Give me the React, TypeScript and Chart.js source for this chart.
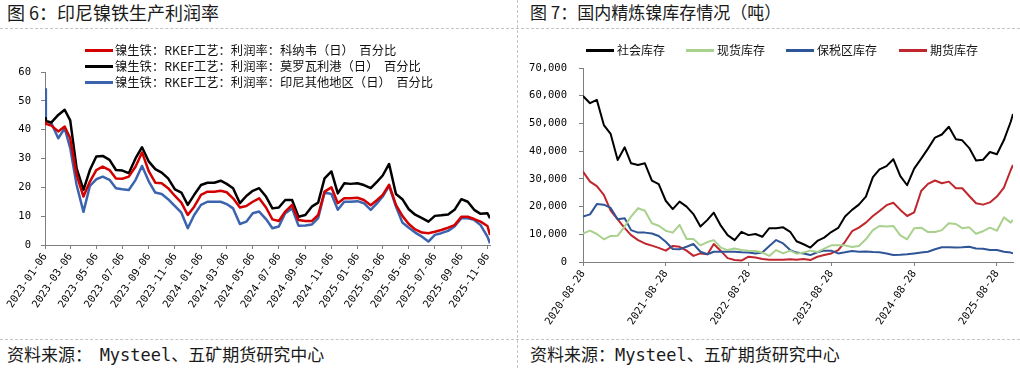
import React, { useEffect, useRef } from "react";
import { Chart, registerables } from "chart.js";

Chart.register(...registerables);

// ---------- Left chart: 印尼镍铁生产利润率 (%) ----------
const leftDates = [
  "2023-01-06", "2023-01-08", "2023-01-21", "2023-02-06", "2023-02-21", "2023-03-06", "2023-03-21",
  "2023-04-06", "2023-04-21", "2023-05-06", "2023-05-21", "2023-06-06", "2023-06-21", "2023-07-06",
  "2023-07-21", "2023-08-06", "2023-08-21", "2023-09-06", "2023-09-21", "2023-10-06", "2023-10-21",
  "2023-11-06", "2023-11-21", "2023-12-06", "2023-12-21",
  "2024-01-06", "2024-01-21", "2024-02-06", "2024-02-21", "2024-03-06", "2024-03-21", "2024-04-06",
  "2024-04-21", "2024-05-06", "2024-05-21", "2024-06-06", "2024-06-21", "2024-07-06", "2024-07-21",
  "2024-08-06", "2024-08-21", "2024-09-06", "2024-09-21", "2024-10-06", "2024-10-21", "2024-11-06",
  "2024-11-21", "2024-12-06", "2024-12-21",
  "2025-01-06", "2025-01-21", "2025-02-06", "2025-02-21", "2025-03-06", "2025-03-21", "2025-04-06",
  "2025-04-21", "2025-05-06", "2025-05-21", "2025-06-06", "2025-06-21", "2025-07-06", "2025-07-21",
  "2025-08-06", "2025-08-21", "2025-09-06", "2025-09-21", "2025-10-06", "2025-10-21", "2025-11-06",
  "2025-11-12",
];

const konawe = [
  42.5, 42, 41.4, 39.4, 41.1, 37.0, 24.3, 16.8, 22.0, 26.0, 27.2, 26.0, 23.1, 23.0, 23.7, 27.2, 32.1,
  25.5, 21.6, 21.4, 19.7, 17.0, 14.7, 10.4, 13.3, 17.4, 18.5, 18.5, 18.8, 18.3, 16.2, 13.0, 13.5, 15.0,
  16.2, 13.0, 8.9, 8.3, 11.6, 13.9, 8.7, 8.3, 8.3, 10.4, 18.5, 20.0, 14.5, 16.2, 16.2, 16.4, 15.6, 13.8,
  15.6, 17.4, 20.9, 13.9, 10.1, 7.3, 5.4, 4.3, 4.1, 4.6, 5.2, 6.0, 6.9, 9.8, 9.8, 9.0, 8.1, 6.6, 3.5,
];

const morowali = [
  44, 43, 42.5, 45.1, 46.9, 43.2, 26.6, 19.1, 26.0, 30.7, 30.9, 29.5, 26.0, 25.8, 24.9, 30.1, 33.9,
  28.9, 26.3, 25.1, 23.1, 19.3, 18.2, 13.9, 17.4, 20.8, 21.6, 21.6, 22.3, 21.2, 19.7, 14.5, 17.0, 18.8,
  19.7, 16.8, 12.7, 13.0, 15.6, 15.6, 9.8, 10.4, 13.3, 14.7, 23.1, 25.5, 17.9, 21.4, 21.2, 21.4, 20.8,
  19.7, 22.0, 24.1, 28.1, 17.7, 15.9, 12.4, 10.5, 9.3, 8.1, 10.1, 10.3, 10.6, 12.2, 15.9, 15.0, 12.2,
  10.8, 11.0, 9.3,
];

const otherRegion = [
  54, 43, 42.2, 37.0, 40.5, 33.6, 20.8, 11.5, 20.5, 22.8, 23.7, 22.6, 19.7, 19.3, 19.1, 22.6, 27.4,
  22.0, 18.2, 17.7, 15.9, 13.5, 11.2, 5.8, 10.4, 13.9, 15.0, 15.0, 15.0, 14.2, 12.7, 7.3, 8.1, 11.0,
  11.6, 9.0, 5.8, 6.4, 11.0, 12.7, 6.7, 6.8, 7.1, 9.3, 18.2, 17.7, 12.2, 15.0, 15.0, 15.2, 14.5, 12.2,
  14.5, 16.8, 20.5, 13.3, 7.8, 6.0, 4.3, 2.9, 1.2, 3.5, 4.1, 4.9, 6.4, 9.3, 9.3, 8.7, 6.9, 2.9, 0.6,
];

const leftTickDates = [
  "2023-01-06", "2023-03-06", "2023-05-06", "2023-07-06", "2023-09-06", "2023-11-06",
  "2024-01-06", "2024-03-06", "2024-05-06", "2024-07-06", "2024-09-06", "2024-11-06",
  "2025-01-06", "2025-03-06", "2025-05-06", "2025-07-06", "2025-09-06", "2025-11-06",
];
const leftYMax = 60;
const leftYStep = 10;

const leftLegend = [
  { label: "镍生铁：RKEF工艺：利润率：科纳韦（日）  百分比", color: "#d40000" },
  { label: "镍生铁：RKEF工艺：利润率：莫罗瓦利港（日）  百分比", color: "#000000" },
  { label: "镍生铁：RKEF工艺：利润率：印尼其他地区（日）  百分比", color: "#3c63ae" },
];

// ---------- Right chart: 国内精炼镍库存情况 (吨) ----------
const rightDates = [
  "2020-08-28", "2020-09-28", "2020-10-28", "2020-11-28", "2020-12-28",
  "2021-01-28", "2021-02-28", "2021-03-28", "2021-04-28", "2021-05-28", "2021-06-28",
  "2021-07-28", "2021-08-28", "2021-09-28", "2021-10-28", "2021-11-28", "2021-12-28",
  "2022-01-28", "2022-02-28", "2022-03-28", "2022-04-28", "2022-05-28", "2022-06-28",
  "2022-07-28", "2022-08-28", "2022-09-28", "2022-10-28", "2022-11-28", "2022-12-28",
  "2023-01-28", "2023-02-28", "2023-03-28", "2023-04-28", "2023-05-28", "2023-06-28",
  "2023-07-28", "2023-08-28", "2023-09-28", "2023-10-28", "2023-11-28", "2023-12-28",
  "2024-01-28", "2024-02-28", "2024-03-28", "2024-04-28", "2024-05-28", "2024-06-28",
  "2024-07-28", "2024-08-28", "2024-09-28", "2024-10-28", "2024-11-28", "2024-12-28",
  "2025-01-28", "2025-02-28", "2025-03-28", "2025-04-28", "2025-05-28", "2025-06-28",
  "2025-07-28", "2025-08-28", "2025-09-28", "2025-10-28", "2025-11-07",
];

const socialStock = [
  59900, 57300, 58500, 49400, 46200, 36800, 41400, 35600, 35000, 35600, 29400, 28100, 22100, 19100,
  21800, 20000, 17300, 12800, 15200, 17800, 13100, 9700, 7900, 10900, 9700, 10100, 9100, 12200, 12200,
  12500, 10900, 7500, 6400, 5200, 7600, 8800, 10800, 12300, 16400, 18800, 20700, 23600, 30600, 33400,
  34600, 37100, 31000, 27700, 33700, 37300, 40900, 44900, 46000, 48800, 44300, 43900, 41100, 36600,
  36900, 39700, 38900, 44000, 50600, 53400,
];

const spotStock = [
  10300, 11300, 10100, 8200, 9400, 9500, 12800, 16400, 19400, 18500, 14000, 13100, 11300, 10600, 13400,
  8300, 8300, 6000, 7200, 7900, 5200, 4300, 4900, 4300, 4100, 4000, 3400, 2200, 4300, 3100, 4100, 3000,
  3400, 4100, 3600, 4800, 6000, 6000, 6000, 5400, 5800, 8200, 11500, 13000, 12800, 13000, 9600, 8200,
  12200, 12400, 10800, 10800, 11500, 14000, 13700, 12200, 12500, 10200, 11100, 12400, 11300, 16100,
  14200, 15200,
];

const bondedStock = [
  16400, 17200, 20900, 20700, 19500, 15400, 15800, 11500, 10600, 10600, 10300, 9400, 7300, 4700, 4600,
  5500, 6500, 3700, 2800, 3700, 3700, 3700, 3700, 3500, 3400, 3100, 3400, 5800, 7900, 6700, 4300, 3400,
  3100, 2500, 3500, 4100, 4100, 3100, 3500, 4000, 3700, 3800, 3600, 3500, 3100, 2500, 2600, 2800, 3100,
  3400, 3700, 4600, 5300, 5300, 5200, 5300, 5500, 4900, 4800, 4300, 4300, 3700, 3400, 3100,
];

const futuresStock = [
  32600, 29000, 27400, 24200, 18500, 15400, 12200, 9700, 7900, 6700, 5900, 5100, 4100, 5800, 5500, 4100,
  2200, 3100, 2800, 6500, 4000, 1400, 700, 500, 1900, 1600, 1100, 800, 800, 800, 1000, 800, 1100, 700,
  1900, 2500, 3100, 4300, 7300, 11100, 12400, 14200, 16600, 18400, 20500, 21400, 18800, 16600, 17900,
  25600, 28200, 29400, 28400, 29000, 26600, 26600, 23800, 21200, 20700, 21500, 23600, 26800, 33200,
  35000,
];

const rightTickDates = ["2020-08-28", "2021-08-28", "2022-08-28", "2023-08-28", "2024-08-28", "2025-08-28"];
const rightYMax = 70000;
const rightYStep = 10000;

const rightLegend = [
  { label: "社会库存", color: "#000000", lineLeft: 586, textLeft: 617 },
  { label: "现货库存", color: "#a9d18e", lineLeft: 686, textLeft: 717 },
  { label: "保税区库存", color: "#2f5597", lineLeft: 786, textLeft: 817 },
  { label: "期货库存", color: "#c0262d", lineLeft: 899, textLeft: 930 },
];

// ---------- helpers ----------
const DAY = 86400000;
const toDay = (d: string) => Math.round(Date.parse(d + "T00:00:00Z") / DAY);
const fmtDay = (v: number) => new Date(v * DAY).toISOString().slice(0, 10);
const series = (dates: string[], vals: number[]) => dates.map((d, i) => ({ x: toDay(d), y: vals[i] }));

const tickFont = { family: '"DejaVu Sans Mono", monospace', size: 10.5 };
const axisGray = "#7f7f7f";
const mono = '"DejaVu Sans Mono", monospace';

function lineDs(label: string, dates: string[], vals: number[], color: string, width: number) {
  return {
    label,
    data: series(dates, vals),
    borderColor: color,
    backgroundColor: color,
    borderWidth: width,
    pointRadius: 0,
    tension: 0,
    borderJoinStyle: "round" as const,
    fill: false,
  };
}

function makeXScale(dates: string[], tickDates: string[], height: number) {
  return {
    type: "linear" as const,
    min: toDay(dates[0]),
    max: toDay(dates[dates.length - 1]),
    afterBuildTicks: (scale: any) => {
      scale.ticks = tickDates.map((d) => ({ value: toDay(d) }));
    },
    afterFit: (scale: any) => {
      scale.height = height;
    },
    ticks: {
      autoSkip: false,
      minRotation: 56,
      maxRotation: 56,
      padding: 2,
      color: "#000",
      font: tickFont,
      callback: (v: any) => fmtDay(Number(v)),
    },
    grid: { drawOnChartArea: false, drawTicks: true, tickLength: 4, color: axisGray },
    border: { color: axisGray, width: 1 },
  };
}

function makeYScale(max: number, step: number, width: number, fmt: (v: number) => string, pad: number) {
  return {
    min: 0,
    max,
    afterFit: (scale: any) => {
      scale.width = width;
    },
    ticks: { stepSize: step, padding: pad, color: "#000", font: tickFont, callback: (v: any) => fmt(Number(v)) },
    grid: { drawOnChartArea: false, drawTicks: true, tickLength: 4, color: axisGray },
    border: { color: axisGray, width: 1 },
  };
}

const dashH = (top: number, left: number, width: number) => ({
  position: "absolute" as const,
  top,
  left,
  width,
  height: 0,
  borderTop: "1px dashed #c4c4c4",
});

export default function App() {
  const leftRef = useRef<HTMLCanvasElement>(null);
  const rightRef = useRef<HTMLCanvasElement>(null);

  useEffect(() => {
    const left = new Chart(leftRef.current as HTMLCanvasElement, {
      type: "line",
      data: {
        datasets: [
          lineDs(leftLegend[0].label, leftDates, konawe, leftLegend[0].color, 2.5),
          lineDs(leftLegend[1].label, leftDates, morowali, leftLegend[1].color, 2.5),
          lineDs(leftLegend[2].label, leftDates, otherRegion, leftLegend[2].color, 2.5),
        ],
      },
      options: {
        animation: false,
        responsive: true,
        maintainAspectRatio: false,
        parsing: false as any,
        normalized: true,
        layout: { padding: { top: 42, right: 20, left: 0, bottom: 0 } },
        plugins: { legend: { display: false }, tooltip: { enabled: false } },
        scales: {
          x: makeXScale(leftDates, leftTickDates, 90) as any,
          y: makeYScale(leftYMax, leftYStep, 45, (v) => String(v), 10) as any,
        },
      },
    });

    const right = new Chart(rightRef.current as HTMLCanvasElement, {
      type: "line",
      data: {
        datasets: [
          lineDs(rightLegend[0].label, rightDates, socialStock, rightLegend[0].color, 2),
          lineDs(rightLegend[1].label, rightDates, spotStock, rightLegend[1].color, 2),
          lineDs(rightLegend[2].label, rightDates, bondedStock, rightLegend[2].color, 2),
          lineDs(rightLegend[3].label, rightDates, futuresStock, rightLegend[3].color, 2),
        ],
      },
      options: {
        animation: false,
        responsive: true,
        maintainAspectRatio: false,
        parsing: false as any,
        normalized: true,
        layout: { padding: { top: 38, right: 7, left: 0, bottom: 0 } },
        plugins: { legend: { display: false }, tooltip: { enabled: false } },
        scales: {
          x: makeXScale(rightDates, rightTickDates, 73) as any,
          y: makeYScale(rightYMax, rightYStep, 66, (v) => v.toLocaleString("en-US"), 12) as any,
        },
      },
    });

    return () => {
      left.destroy();
      right.destroy();
    };
  }, []);

  const cjk = '"Noto Sans CJK SC", "Noto Sans", sans-serif';

  return (
    <div
      style={{
        position: "fixed",
        left: 0,
        top: 0,
        width: 1020,
        height: 368,
        background: "#fff",
        overflow: "hidden",
        fontFamily: cjk,
        color: "#1a1a1a",
      }}
    >
      {/* titles */}
      <div style={{ position: "absolute", left: 7, top: 2, height: 20, lineHeight: "20px", fontSize: 18, whiteSpace: "pre" }}>
        图 6：印尼镍铁生产利润率
      </div>
      <div style={{ position: "absolute", left: 530, top: 2, height: 20, lineHeight: "20px", fontSize: 17, whiteSpace: "pre" }}>
        图 7：国内精炼镍库存情况（吨）
      </div>

      {/* dashed separators */}
      <div style={dashH(28, 0, 1020)} />
      <div style={dashH(339, 0, 1020)} />
      <div style={{ position: "absolute", left: 517, top: 0, width: 0, height: 368, borderLeft: "1px dashed #c4c4c4" }} />

      {/* charts */}
      <div style={{ position: "absolute", left: 0, top: 30, width: 510, height: 305 }}>
        <canvas ref={leftRef} />
      </div>
      <div style={{ position: "absolute", left: 517, top: 30, width: 503, height: 305 }}>
        <canvas ref={rightRef} />
      </div>

      {/* left legend */}
      {leftLegend.map((item, i) => (
        <div
          key={item.label}
          style={{
            position: "absolute",
            left: 85,
            top: 42 + i * 16,
            height: 16,
            display: "flex",
            alignItems: "center",
            fontSize: 12.3,
            whiteSpace: "pre",
            color: "#111",
          }}
        >
          <span style={{ display: "inline-block", width: 28, height: 3, background: item.color, marginRight: 2 }} />
          <span style={{ lineHeight: "16px" }}>{item.label}</span>
        </div>
      ))}

      {/* right legend */}
      {rightLegend.map((item) => (
        <React.Fragment key={item.label}>
          <div style={{ position: "absolute", left: item.lineLeft, top: 48.5, width: 28, height: 3, background: item.color }} />
          <div
            style={{
              position: "absolute",
              left: item.textLeft,
              top: 42,
              height: 16,
              lineHeight: "16px",
              fontSize: 12,
              whiteSpace: "pre",
              color: "#111",
            }}
          >
            {item.label}
          </div>
        </React.Fragment>
      ))}

      {/* sources */}
      <div style={{ position: "absolute", left: 7, top: 344, height: 20, lineHeight: "20px", fontSize: 17, whiteSpace: "pre" }}>
        资料来源：  <span style={{ fontFamily: mono }}>Mysteel</span>、五矿期货研究中心
      </div>
      <div style={{ position: "absolute", left: 530, top: 344, height: 20, lineHeight: "20px", fontSize: 17, whiteSpace: "pre" }}>
        资料来源：<span style={{ fontFamily: mono }}>Mysteel</span>、五矿期货研究中心
      </div>
    </div>
  );
}
